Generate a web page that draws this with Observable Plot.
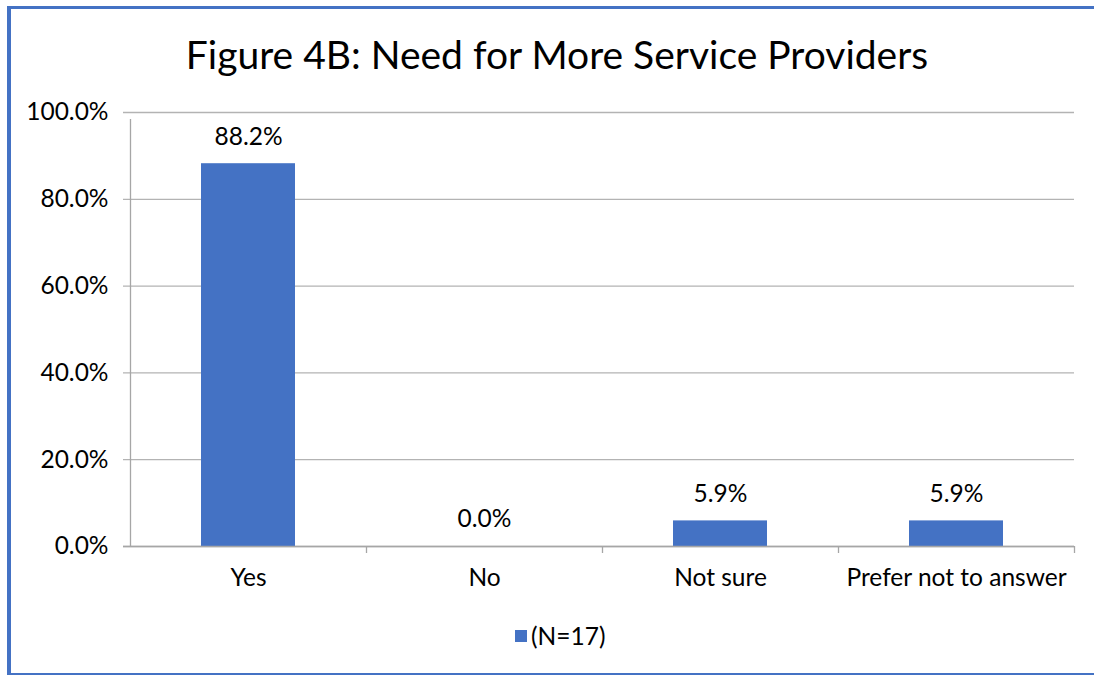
<!DOCTYPE html>
<html><head><meta charset="utf-8">
<script src="https://cdn.jsdelivr.net/npm/d3@7"></script>
<script src="https://cdn.jsdelivr.net/npm/@observablehq/plot@0.6"></script>
<style>
html,body{margin:0;padding:0;background:#fff;}
#wrap{position:relative;width:1094px;height:675px;overflow:hidden;font-family:Lato,sans-serif;color:#000;}
#frame{position:absolute;left:7px;top:6px;width:1100px;height:664px;border-left:4px solid #4472C4;border-top:3px solid #4472C4;border-bottom:3px solid #4472C4;}
#title{position:absolute;top:29px;left:0;width:1094px;padding-left:20px;box-sizing:border-box;text-align:center;font-size:39px;line-height:50px;}
#chart{position:absolute;top:95px;left:0;}
#legend{position:absolute;top:622px;left:515px;font-size:24.5px;line-height:28px;display:flex;align-items:center;}
#legend span.sw{display:inline-block;width:12px;height:12px;background:#4472C4;margin-right:4px;}
</style></head>
<body><div id="wrap"><div id="frame"></div><div id="title">Figure 4B: Need for More Service Providers</div><div id="chart"></div><div id="legend"><span class="sw"></span><span>(N=17)</span></div></div>
<script>
const categories = ["Yes", "No", "Not sure", "Prefer not to answer"];
const values = [0.882, 0.0, 0.059, 0.059];
const yTicks = [0, 0.2, 0.4, 0.6, 0.8, 1.0];
const seriesName = "(N=17)";

const data = categories.map((c, i) => ({category: c, value: values[i]}));
const W = 1094, ML = 130, MR = 20;
const step = (W - ML - MR) / categories.length;
const fmt = d3.format(".1%");
const FS = 24.5;

const plot = Plot.plot({
  width: W,
  height: 505,
  marginLeft: ML,
  marginRight: MR,
  marginTop: 17,
  marginBottom: 54,
  style: {fontFamily: "Lato, sans-serif", fontSize: FS + "px", color: "#000", background: "transparent"},
  x: {domain: categories, paddingInner: 0.6, paddingOuter: 0.3, label: null},
  y: {domain: [0, 1], label: null},
  marks: [
    Plot.ruleY(yTicks, {y: d => d, stroke: "#b3b3b3", strokeWidth: 1.3, insetLeft: -7}),
    Plot.barY(data, {x: "category", y: "value", fill: "#4472C4"}),
    Plot.ruleX([categories[0]], {x: d => d, dx: -step / 2, y1: 0, y2: 1, insetBottom: -7, stroke: "#a6a6a6", strokeWidth: 1.3}),
    Plot.ruleX(categories.slice(1), {x: d => d, dx: -step / 2, y1: 0, y2: 0, insetBottom: -7, stroke: "#a6a6a6", strokeWidth: 1.3}),
    Plot.ruleX([categories[categories.length - 1]], {x: d => d, dx: step / 2, y1: 0, y2: 0, insetBottom: -7, stroke: "#a6a6a6", strokeWidth: 1.3}),
    Plot.ruleY([0], {stroke: "#a6a6a6", strokeWidth: 1.3, insetLeft: -7}),
    Plot.text(data, {x: "category", y: "value", text: d => fmt(d.value), dy: -27, fill: "#000", fontSize: FS}),
    Plot.axisY({ticks: yTicks, tickFormat: fmt, tickSize: 0, tickPadding: 22, fontSize: FS, fill: "#000"}),
    Plot.axisX({tickSize: 0, tickPadding: 22, fontSize: FS, fill: "#000"})
  ]
});
document.getElementById("chart").appendChild(plot);
</script>
</body></html>
